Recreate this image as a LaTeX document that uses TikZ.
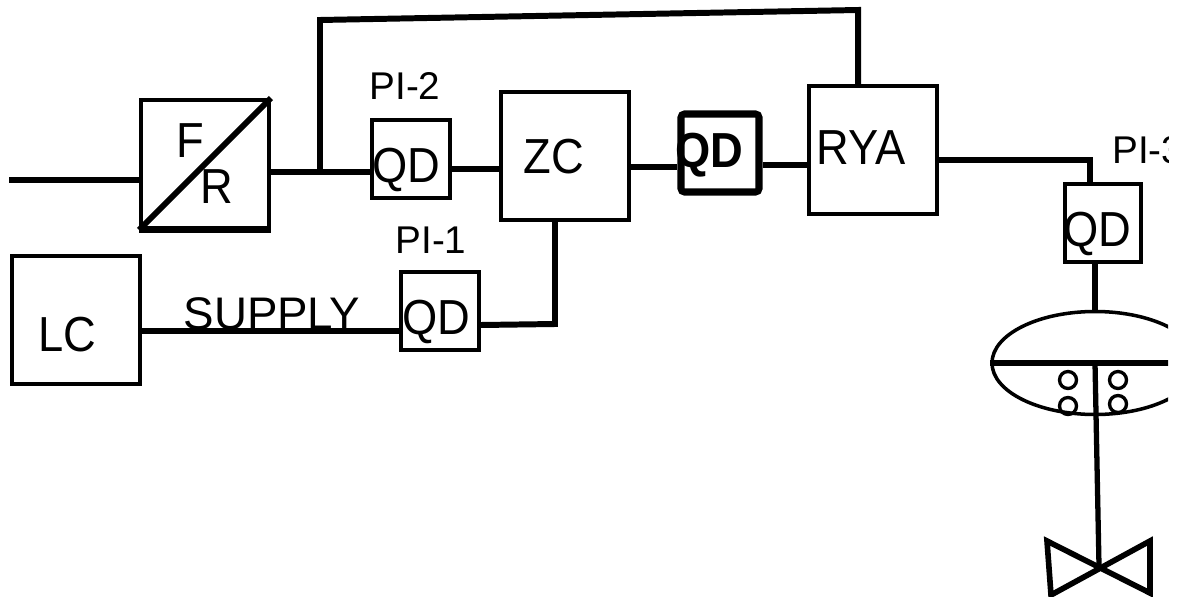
\documentclass[tikz,border=0pt]{standalone}
\usepackage{fontspec}
\setmainfont{Liberation Sans}
\newfontfamily\narrowsans[FakeStretch=0.92]{Liberation Sans}
\usetikzlibrary{calc,shapes.geometric}

\begin{document}
\begin{tikzpicture}[x=0.2mm, y=-0.2mm,
  bigbox/.style={draw, line width=2.2pt, minimum size=25.6mm, inner sep=0pt},
  qdbox/.style={draw, line width=2.2pt, minimum size=15.6mm, inner sep=0pt},
  boxtext/.style={inner sep=0pt, font=\fontsize{28}{28}\narrowsans},
  tagtext/.style={inner sep=0pt, font=\fontsize{22}{22}\selectfont},
  pipe/.style={line width=3.4pt},
  bubble/.style={circle, draw, line width=1.9pt, minimum size=3.4mm, inner sep=0pt}]
  \useasboundingbox (0,0) rectangle (1178,597);
  % boxes
  \node[bigbox] (fr) at (205,164) {};
  \node[bigbox] (lc) at (76,320) {};
  \node[bigbox] (zc) at (565,156) {};
  \node[bigbox] (rya) at (873,150) {};
  \node[qdbox] (qdtwo) at (411,159) {};
  \node[qdbox] (qdone) at (440,311) {};
  \node[qdbox, line width=4pt, rounded corners=2pt] (qdmid) at (720,153) {};
  \node[qdbox, minimum width=15.2mm] (qdthree) at (1103,223) {};
  \draw[line width=3.4pt] (fr.south west) -- (fr.north east);
  \draw[line width=3.4pt] (fr.south west) -- (fr.south east);
  % texts
  \node[boxtext] (ftext) at (190,141) {F};
  \node[boxtext] (rtext) at (217,187) {R};
  \node[boxtext] (lctext) at (67,335) {LC};
  \node[boxtext] (zctext) at (554,157) {ZC};
  \node[boxtext] (ryatext) at (861,148) {RYA};
  \node[boxtext] (qdtwotext) at (406,170) {QD};
  \node[boxtext] (qdonetext) at (436,322) {QD};
  \node[boxtext, font=\fontsize{28}{28}\narrowsans\bfseries] (qdmidtext) at (709,155) {QD};
  \node[boxtext] (qdthreetext) at (1097,234) {QD};
  \node[tagtext] (pitwo) at (405,86) {PI-2};
  \node[tagtext] (pione) at (431,240) {PI-1};
  \node[inner sep=0pt, font=\fontsize{26}{26}\selectfont] (supply) at (272,314) {SUPPLY};
  % lines
  \coordinate (inlet) at (9,180);
  \coordinate (tee) at (320,172);
  \coordinate (topleft) at (320,20);
  \coordinate (topright) at (858,10);
  \coordinate (ryadrop) at (1090,160);
  \coordinate (zcdrop) at (555,324);
  \draw[pipe] (inlet) -- (inlet -| fr.west);
  \draw[pipe] (tee -| fr.east) -- (tee) -- (tee -| qdtwo.west);
  \draw[pipe] (tee) -- (topleft) -- (topright) -- (topright |- rya.north);
  \draw[pipe] ($(qdtwo.east)+(0,10)$) -- ($(zc.west)+(0,13)$);
  \draw[pipe] ($(zc.east)+(0,11)$) -- ($(qdmid.west)+(0,14)$);
  \draw[pipe] ($(qdmid.east)+(0,12)$) -- ($(rya.west)+(0,15)$);
  \draw[pipe] ($(rya.east)+(0,10)$) -- (ryadrop) -- (ryadrop |- qdthree.north);
  \draw[pipe] ($(lc.east)+(0,11)$) -- ($(qdone.west)+(0,20)$);
  \draw[pipe] ($(qdone.east)+(0,14)$) -- (zcdrop) -- (zcdrop |- zc.south);
  % actuator and valve, cut at the right edge
  \begin{scope}
    \clip (0,0) rectangle (1168,597);
    \node[ellipse, draw, line width=2pt, minimum width=41.2mm, minimum height=20.6mm, inner sep=0pt] (act) at (1095,363) {};
    \draw[pipe] (act.west) -- (act.east);
    \node[tagtext, anchor=west] (pithree) at (1112,150) {PI-3};
  \end{scope}
  \coordinate (valve) at (1099,566);
  \node[bubble] (bubbleA) at (1068,380) {};
  \node[bubble] (bubbleB) at (1118,380) {};
  \node[bubble] (bubbleC) at (1068,406) {};
  \node[bubble] (bubbleD) at (1118,404) {};
  \draw[pipe] (qdthree.south -| act.north) -- (act.north);
  \draw[line width=3pt] (act.center) -- (valve);
  \draw[line width=3.2pt] (1047,541) -- (1150,593) -- (1150,541) -- (1051,595) -- cycle;
\end{tikzpicture}
\end{document}
